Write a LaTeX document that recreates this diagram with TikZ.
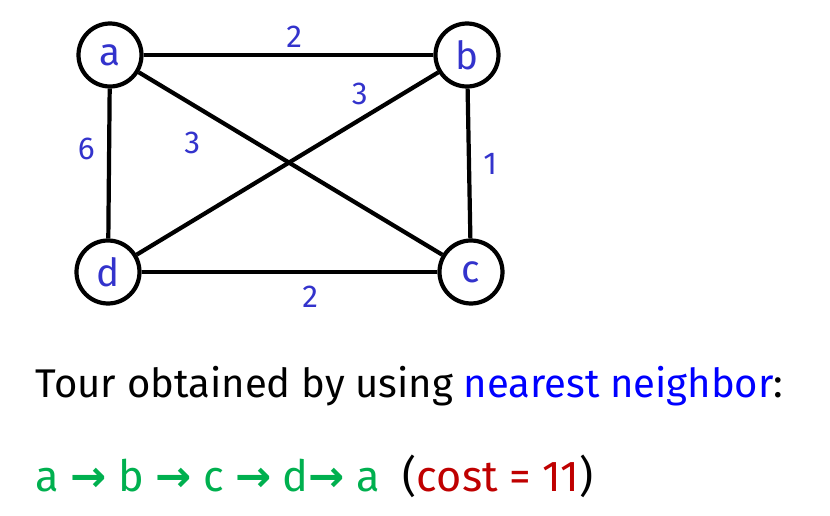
\documentclass[tikz,border=0pt]{standalone}
\usepackage{fontspec}
\setmainfont{Fira Sans}
\newfontfamily\symfont{DejaVu Sans}
\usepackage{tikz}
\usetikzlibrary{positioning}
\usepackage{xcolor}
\definecolor{lblue}{rgb}{0.2,0.2,0.8}
\definecolor{nblue}{rgb}{0,0,1}
\definecolor{tgreen}{rgb}{0,0.69,0.31}
\definecolor{tred}{rgb}{0.75,0,0}
\newcommand{\ra}{{\symfont\bfseries\char"2192}}

\begin{document}
\begin{tikzpicture}[
	v/.style = {circle, draw=black, fill=white, line width=1.2pt, minimum size=0.63cm, inner sep=0pt, text=lblue, font=\fontsize{11}{11}\selectfont},
	e/.style = {line width=1.2pt},
	w/.style = {text=lblue, font=\fontsize{9}{9}\selectfont, inner sep=3.5pt},
	t/.style = {anchor=base west, inner sep=0pt}
	]
	\useasboundingbox (0, 0) rectangle (8.30, 5.16);
	
	%Nodes
	\node[v]	(a)	at	(1.10, 4.61)	{a};
	\node[v]	(b)	at	(4.67, 4.61)	{b};
	\node[v]	(d)	at	(1.08, 2.44)	{d};
	\node[v]	(c)	at	(4.71, 2.44)	{c};
	
	\node[t, font=\fontsize{11.4}{14}\selectfont]	(line1)	at	(0.35, 1.18)	{Tour obtained by using \textcolor{nblue}{nearest neighbor}:};
	\node[t, font=\fontsize{12.3}{15}\selectfont]	(line2)	at	(0.35, 0.24)	{\textcolor{tgreen}{a \ra{} b \ra{} c \ra{} d\ra{} a}\ \ (\textcolor{tred}{cost = 11})};
	
	%Lines
	\draw[e]	(a)	to	node[w, above, pos=0.52, inner sep=1.5pt]	{2}	(b);
	\draw[e]	(a)	to	node[w, left, pos=0.4]		{6}	(d);
	\draw[e]	(b)	to	node[w, right]				{1}	(c);
	\draw[e]	(d)	to	node[w, below, pos=0.57]		{2}	(c);
	\draw[e]	(a)	to	node[w, below left, pos=0.25]	{3}	(c);
	\draw[e]	(d)	to	node[w, above, pos=0.74]		{3}	(b);
	
\end{tikzpicture}
\end{document}
